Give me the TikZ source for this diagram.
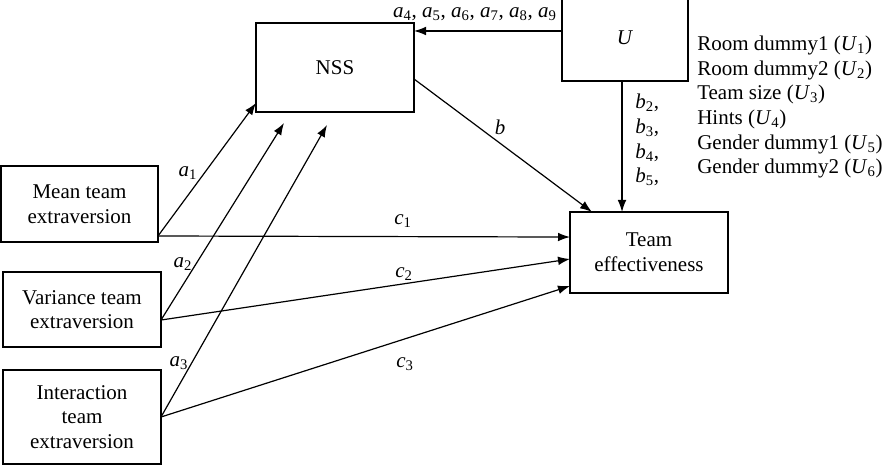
\documentclass[tikz,border=0pt]{standalone}
\usepackage{fontspec}
\setmainfont{Liberation Serif}
\usetikzlibrary{arrows.meta}

\newcommand{\sv}[2]{\textit{#1}\textsubscript{#2}}

\tikzset{
  box/.style={draw,rectangle,line width=0.9pt,inner sep=0pt,outer sep=0pt,align=center},
  path/.style={line width=0.9pt,-{Latex[length=9pt,width=6.5pt]}},
  lbl/.style={inner sep=0pt}
}

\begin{document}
\begin{tikzpicture}[x=0.75pt,y=-0.75pt,font=\fontsize{15.75}{18.5}\selectfont]
  \useasboundingbox (0,0) rectangle (885,466);
  % boxes
  \node[box,minimum width=117.75pt,minimum height=57pt] (Mean) at (79.5,204) {Mean team\\extraversion};
  \node[box,minimum width=118.5pt,minimum height=56.25pt] (Var) at (82,309.5) {Variance team\\extraversion};
  \node[box,minimum width=118.5pt,minimum height=70.5pt] (Int) at (82,417) {Interaction\\team\\extraversion};
  \node[box,minimum width=118.5pt,minimum height=66.75pt] (NSS) at (335,67.5) {NSS};
  \node[box,minimum width=94.5pt,minimum height=64.5pt] (U) at (625,38) {\textit{U}};
  \node[box,minimum width=118.5pt,minimum height=60.75pt] (TE) at (649,252.5) {Team\\effectiveness};
  % arrows
  \draw[path] ([yshift=5.25pt]U.west) -- ([yshift=5.25pt]U.west -| NSS.east);
  \draw[path] ([xshift=-2.25pt]U.south) -- ([xshift=-2.25pt]U.south |- TE.north);
  \draw[path] ([yshift=-8.6pt]NSS.east) -- ([xshift=16.5pt]TE.north west);
  \draw[path] ([yshift=4.5pt]Mean.south east) -- ([yshift=6.75pt]NSS.south west);
  \draw[path] ([yshift=-7.9pt]Var.east) -- ([xshift=21pt,yshift=-8.25pt]NSS.south west);
  \draw[path] (Int.east) -- ([xshift=53.25pt,yshift=-9.75pt]NSS.south west);
  \draw[path] ([yshift=4.5pt]Mean.south east) -- ([yshift=11.6pt]TE.west);
  \draw[path] ([yshift=-7.9pt]Var.east) -- ([yshift=-4.9pt]TE.west);
  \draw[path] (Int.east) -- ([yshift=5.25pt]TE.south west);
  % labels
  \node[lbl] (l-a1) at (188,173) {\sv{a}{1}};
  \node[lbl] (l-a2) at (183,264) {\sv{a}{2}};
  \node[lbl] (l-a3) at (179,363) {\sv{a}{3}};
  \node[lbl] (l-c1) at (403,221) {\sv{c}{1}};
  \node[lbl] (l-c2) at (404,274) {\sv{c}{2}};
  \node[lbl] (l-c3) at (405,364) {\sv{c}{3}};
  \node[lbl] (l-b) at (500,127) {\textit{b}};
  \node[lbl,anchor=east] (l-a4) at (557,14) {\sv{a}{4}, \sv{a}{5}, \sv{a}{6}, \sv{a}{7}, \sv{a}{8}, \sv{a}{9}};
  \node[lbl,anchor=west,align=left] (l-b2) at (635,140) {\sv{b}{2},\\\sv{b}{3},\\\sv{b}{4},\\\sv{b}{5},};
  \node[lbl,anchor=west,align=left] (Ulist) at (697,107) {Room dummy1 (\sv{U}{1})\\Room dummy2 (\sv{U}{2})\\Team size (\sv{U}{3})\\Hints (\sv{U}{4})\\Gender dummy1 (\sv{U}{5})\\Gender dummy2 (\sv{U}{6})};
\end{tikzpicture}
\end{document}
